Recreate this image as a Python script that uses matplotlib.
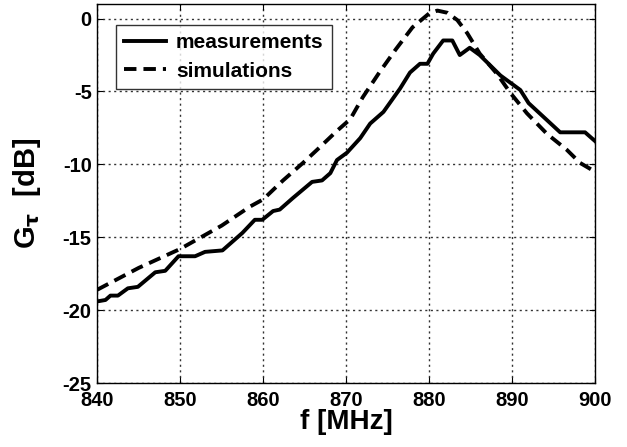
import matplotlib.pyplot as plt

# measured gain (solid)
f_meas = [840, 841, 841.6, 842.5, 843.7, 844.9, 847.0, 848.2, 849.8, 851.8,
          853.0, 855.1, 857.5, 859.0, 859.9, 861.2, 862.0, 863.6, 865.9, 867.1,
          868.1, 868.9, 870.1, 871.7, 872.9, 874.5, 875.5, 876.5, 877.7, 878.9,
          879.8, 880.5, 881.7, 882.8, 883.7, 884.9, 886.1, 888.6, 891.0, 892.0,
          895.8, 898.8, 900]
g_meas = [-19.4, -19.3, -19.0, -19.0, -18.5, -18.4, -17.4, -17.3, -16.3, -16.3,
          -16.0, -15.9, -14.7, -13.8, -13.8, -13.2, -13.1, -12.3, -11.2, -11.1,
          -10.6, -9.7, -9.2, -8.2, -7.2, -6.4, -5.6, -4.8, -3.7, -3.1,
          -3.1, -2.4, -1.5, -1.5, -2.5, -2.0, -2.5, -3.9, -4.9, -5.8,
          -7.8, -7.8, -8.4]

# simulated gain (dashed)
f_sim = [840, 845, 850, 855, 858.4, 860, 862.4, 864.8, 866.5, 868.9, 870.5,
         872, 874, 876, 878, 880, 881, 882.2, 883.4, 884.6, 886.1, 888.2,
         889.8, 891.8, 894.2, 896.6, 898.2, 900]
g_sim = [-18.6, -17.1, -15.8, -14.2, -12.9, -12.4, -11.1, -9.9, -9.0, -7.7, -6.9,
         -5.4, -3.7, -2.1, -0.6, 0.35, 0.55, 0.4, -0.1, -1.0, -2.4, -3.8,
         -5.1, -6.5, -7.9, -9.0, -9.9, -10.5]

xticks = [840, 850, 860, 870, 880, 890, 900]
yticks = [-25, -20, -15, -10, -5, 0]

plt.rcParams['font.family'] = 'Liberation Sans'
plt.rcParams['font.weight'] = 'bold'
plt.rcParams['axes.unicode_minus'] = False

fig = plt.figure(figsize=(6.27, 4.47), dpi=100)
ax = fig.add_axes([0.155, 0.143, 0.794, 0.848])

ax.plot(f_meas, g_meas, color='black', lw=2.8, label='measurements')
ax.plot(f_sim, g_sim, color='black', lw=2.8, ls=(0, (3.2, 1.8)), label='simulations')

ax.set_xlim(840, 900)
ax.set_ylim(-25, 1)
ax.set_xticks(xticks)
ax.set_yticks(yticks)
ax.grid(True, color='#333333', ls=(0, (1.5, 2.5)), lw=1.0)
ax.tick_params(direction='in', top=True, right=True, labelsize=14.5, length=4, pad=4)
ax.tick_params(axis='x', pad=6)
for lbl in ax.get_xticklabels() + ax.get_yticklabels():
    lbl.set_fontweight('bold')
for s in ax.spines.values():
    s.set_linewidth(1.0)

ax.set_xlabel('f [MHz]', fontsize=20, fontweight='bold', labelpad=-1)
ax.set_ylabel(r'G$_{\mathbf{\tau}}$  [dB]', fontsize=21, fontweight='bold', labelpad=14)

leg = ax.legend(loc='upper left', fontsize=15, frameon=True, fancybox=False,
                edgecolor='black', handlelength=2.0, handletextpad=0.5,
                borderpad=0.4, labelspacing=0.45, borderaxespad=0,
                bbox_to_anchor=(0.037, 0.945))
leg.get_frame().set_linewidth(1.0)
for t in leg.get_texts():
    t.set_fontweight('bold')

fig.savefig('out.png', dpi=100)
